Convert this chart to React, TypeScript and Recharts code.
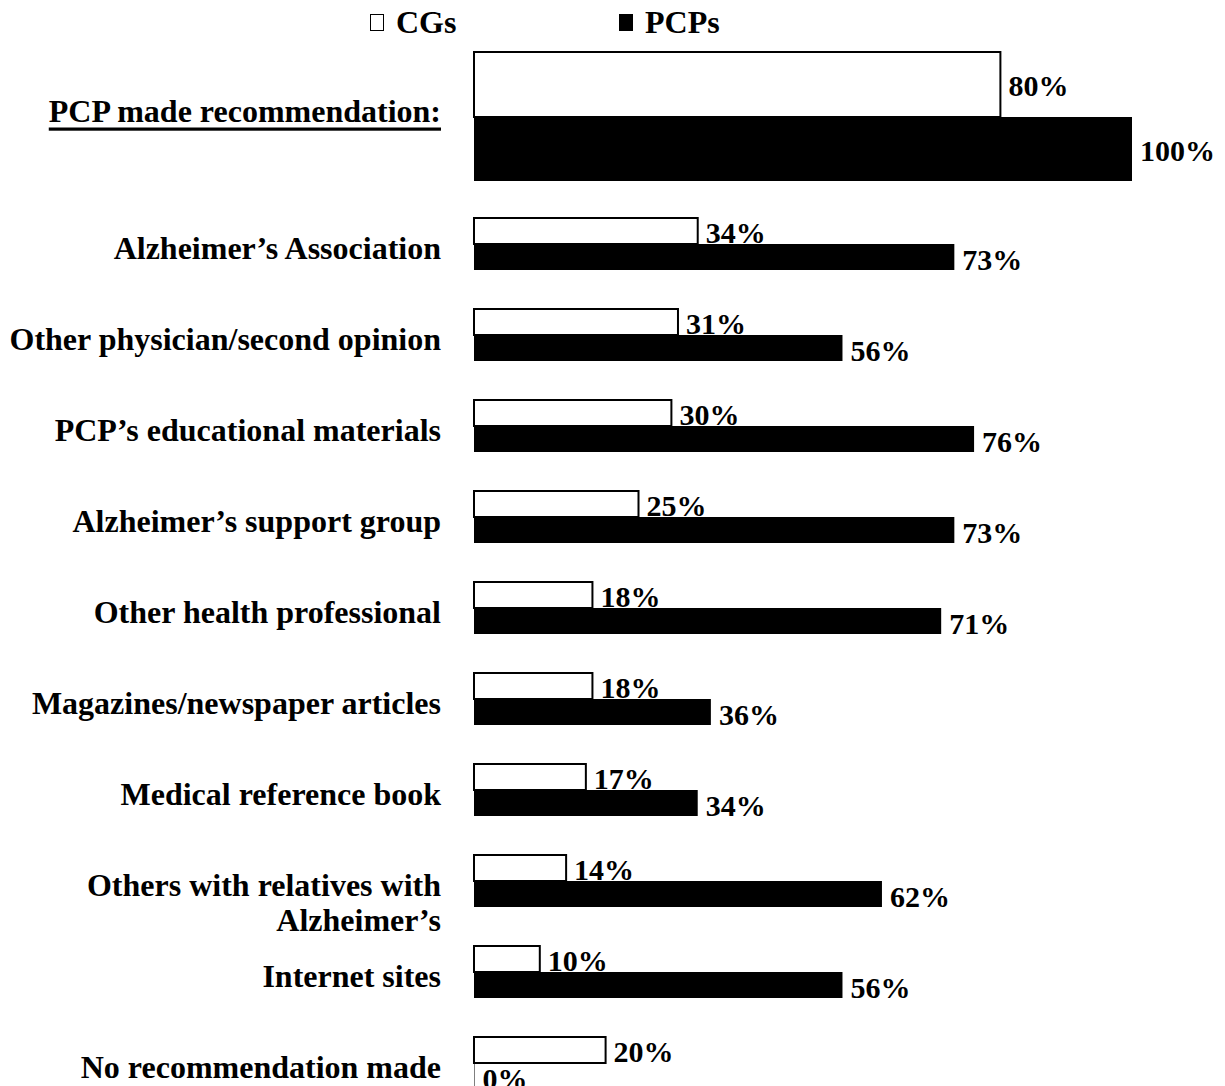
import { BarChart, Bar, XAxis, YAxis, LabelList, Legend } from 'recharts'

const SOURCES = [
  'PCP made recommendation:',
  'Alzheimer’s Association',
  'Other physician/second opinion',
  'PCP’s educational materials',
  'Alzheimer’s support group',
  'Other health professional',
  'Magazines/newspaper articles',
  'Medical reference book',
  'Others with relatives with\nAlzheimer’s',
  'Internet sites',
  'No recommendation made',
]
const CG_PCT = [80, 34, 31, 30, 25, 18, 18, 17, 14, 10, 20]
const PCP_PCT = [100, 73, 56, 76, 73, 71, 36, 34, 62, 56, 0]
const SERIES = ['CGs', 'PCPs']

const FONT = '"Liberation Serif", "Times New Roman", serif'

const rows = SOURCES.map((source, i) => ({ source, cg: CG_PCT[i], pcp: PCP_PCT[i] }))
const headRow = rows.slice(0, 1)
const restRows = rows.slice(1)

function SourceTick({ y, payload, head }: any) {
  const lines = String(payload.value).split('\n')
  return (
    <text
      x={441}
      y={head ? y - 6 : y + 4}
      textAnchor="end"
      dominantBaseline="central"
      fontFamily={FONT}
      fontWeight="bold"
      fontSize={32}
      fill="#000"
      style={head ? { textDecoration: 'underline' } : undefined}
    >
      {lines.map((l, i) => (
        <tspan key={i} x={441} dy={i === 0 ? 0 : 35}>{l}</tspan>
      ))}
    </text>
  )
}

// label placement: 'mid' centres on the bar, 'base' sits on the bar's bottom edge
function pctLabel(mode: 'mid' | 'base' | 'low') {
  return (props: any) => {
    const { x, y, width, height, value } = props
    const ty = mode === 'base' ? y + height - 1 : y + height / 2 + (mode === 'low' ? 13 : 11)
    return (
      <text x={x + Math.max(width, 0) + 8} y={ty} fontFamily={FONT} fontWeight="bold" fontSize={30} fill="#000">
        {value}%
      </text>
    )
  }
}

function LegendBox() {
  const item = (label: string, filled: boolean, left: number) => (
    <div style={{ position: 'absolute', left, top: 0, display: 'flex', alignItems: 'center' }}>
      <span style={{
        display: 'inline-block', width: 12, height: 15,
        border: '1.5px solid #000', background: filled ? '#000' : '#fff', marginRight: 12,
      }} />
      <span style={{ fontFamily: FONT, fontWeight: 'bold', fontSize: 32, lineHeight: '34px' }}>{label}</span>
    </div>
  )
  return (
    <div style={{ position: 'relative', width: 1225, height: 40 }}>
      {item(SERIES[0], false, 370)}
      {item(SERIES[1], true, 619)}
    </div>
  )
}

export default function App() {
  return (
    <div style={{ position: 'absolute', left: 0, top: 0, width: 1225, height: 1086, overflow: 'hidden', background: '#fff' }}>
      <div style={{ position: 'absolute', left: 0, top: 0 }}>
        <BarChart
          width={1225}
          height={181}
          data={headRow}
          layout="vertical"
          margin={{ top: 12, right: 93, left: 0, bottom: 0 }}
          barCategoryGap={0}
          barGap={0}
        >
          <Legend
            verticalAlign="top"
            content={() => <LegendBox />}
            wrapperStyle={{ position: 'absolute', top: 5, left: 0, width: 1225, height: 40 }}
          />
          <XAxis type="number" domain={[0, 100]} hide />
          <YAxis type="category" dataKey="source" width={474} axisLine={false} tickLine={false}
            tick={(p: any) => <SourceTick {...p} head />} />
          <Bar dataKey="cg" name={SERIES[0]} fill="#fff" stroke="#000" strokeWidth={2} isAnimationActive={false}>
            <LabelList dataKey="cg" content={pctLabel('mid')} />
          </Bar>
          <Bar dataKey="pcp" name={SERIES[1]} fill="#000" isAnimationActive={false}>
            <LabelList dataKey="pcp" content={pctLabel('mid')} />
          </Bar>
        </BarChart>
      </div>
      <div style={{ position: 'absolute', left: 0, top: 198 }}>
        <BarChart
          width={1225}
          height={910}
          data={restRows}
          layout="vertical"
          margin={{ top: 0, right: 93, left: 0, bottom: 0 }}
          barSize={26}
          barGap={0}
        >
          <XAxis type="number" domain={[0, 100]} hide />
          <YAxis type="category" dataKey="source" width={474} axisLine={false} tickLine={false}
            interval={0} tick={(p: any) => <SourceTick {...p} />} />
          <Bar dataKey="cg" name={SERIES[0]} fill="#fff" stroke="#000" strokeWidth={2} isAnimationActive={false}>
            <LabelList dataKey="cg" content={pctLabel('base')} />
          </Bar>
          <Bar dataKey="pcp" name={SERIES[1]} fill="#000" minPointSize={0.5} isAnimationActive={false}>
            <LabelList dataKey="pcp" content={pctLabel('low')} />
          </Bar>
        </BarChart>
      </div>
    </div>
  )
}
